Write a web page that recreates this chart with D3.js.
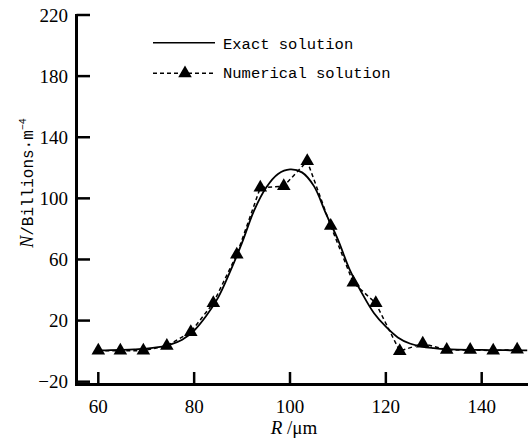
<!DOCTYPE html>
<html>
<head>
<meta charset="utf-8">
<script src="https://cdn.jsdelivr.net/npm/d3@7"></script>
<style>
  html, body { margin: 0; padding: 0; background: #fff; }
  svg { display: block; }
</style>
</head>
<body>
<svg id="chart" width="528" height="440"></svg>
<script>
// ---- data ----
const xTicks = [60, 80, 100, 120, 140];
const yTicks = [-20, 20, 60, 100, 140, 180, 220];

// Numerical solution (triangles)
const numR = [60, 64.6, 69.4, 74.3, 79.3, 84.0, 88.9, 93.8, 98.7, 103.6, 108.5, 113.2, 117.9, 122.9, 127.7, 132.7, 137.6, 142.4, 147.4];
const numN = [0.3, 0.3, 0.3, 3.5, 12.5, 31.5, 63.2, 107, 108, 124.4, 82, 44.8, 31.4, 0, 5, 0.8, 0.8, 0.4, 1];

// Exact solution
const exactR = [60, 62.5, 65, 67.5, 70, 72.5, 75, 77.5, 80, 82.5, 85, 87.5, 90, 92.5, 95, 97.5, 100, 102.5, 105, 107.5, 110, 112.5, 115, 117.5, 120, 122.5, 125, 127.5, 130, 132.5, 135, 140, 145, 149.5];
const exactN = [0.5, 0.6, 0.8, 1.1, 1.6, 2.6, 4.3, 7.5, 13.5, 23, 35, 52, 71, 92, 107, 116, 119, 117, 108, 90, 73, 53, 38, 25, 16, 9, 5, 3, 2, 1.3, 1, 0.8, 0.6, 0.5];

const legendLabels = ["Exact solution", "Numerical solution"];

// ---- layout ----
const svg = d3.select("#chart");
const axisX = 76.5, axisY = 384.5;
const x = d3.scaleLinear().domain([60, 140]).range([98.3, 481.7]);
const y = d3.scaleLinear().domain([-20, 220]).range([381.7, 15]);

const serif = "'Liberation Serif', 'Times New Roman', serif";
const mono = "'Liberation Mono', 'Courier New', monospace";

// curves
const exactData = exactR.map((r, i) => [r, exactN[i]]);
const numData = numR.map((r, i) => [r, numN[i]]);

svg.append("path")
  .datum(exactData)
  .attr("fill", "none")
  .attr("stroke", "#000")
  .attr("stroke-width", 1.8)
  .attr("d", d3.line().x(d => x(d[0])).y(d => y(d[1])).curve(d3.curveCatmullRom.alpha(0.5)));

svg.append("path")
  .datum(numData)
  .attr("fill", "none")
  .attr("stroke", "#000")
  .attr("stroke-width", 1.5)
  .attr("stroke-dasharray", "4,3")
  .attr("d", d3.line().x(d => x(d[0])).y(d => y(d[1])));

const tri = d3.symbol().type(d3.symbolTriangle).size(80);
svg.append("g").selectAll("path")
  .data(numData)
  .join("path")
  .attr("transform", d => `translate(${x(d[0])},${y(d[1])})`)
  .attr("d", tri)
  .attr("fill", "#000");

// axes lines
svg.append("line").attr("x1", axisX).attr("x2", axisX).attr("y1", 14).attr("y2", axisY + 1.5)
  .attr("stroke", "#000").attr("stroke-width", 3);
svg.append("line").attr("x1", axisX - 1.5).attr("x2", 528).attr("y1", axisY).attr("y2", axisY)
  .attr("stroke", "#000").attr("stroke-width", 3);

// y ticks
const yg = svg.append("g");
yg.selectAll("line").data(yTicks).join("line")
  .attr("x1", axisX).attr("x2", 90)
  .attr("y1", d => y(d)).attr("y2", d => y(d))
  .attr("stroke", "#000").attr("stroke-width", 2.5);
yg.selectAll("text").data(yTicks).join("text")
  .attr("x", 68).attr("y", d => y(d))
  .attr("text-anchor", "end")
  .attr("dominant-baseline", "central")
  .attr("font-family", serif).attr("font-size", 19)
  .text(d => d3.format("")(d));

// x ticks
const xg = svg.append("g");
xg.selectAll("line").data(xTicks).join("line")
  .attr("x1", d => x(d)).attr("x2", d => x(d))
  .attr("y1", axisY).attr("y2", 372)
  .attr("stroke", "#000").attr("stroke-width", 2.5);
xg.selectAll("text").data(xTicks).join("text")
  .attr("x", d => x(d)).attr("y", 413)
  .attr("text-anchor", "middle")
  .attr("font-family", serif).attr("font-size", 19)
  .text(d => d);

// axis titles
const xt = svg.append("text")
  .attr("x", 294).attr("y", 434)
  .attr("text-anchor", "middle")
  .attr("font-family", serif).attr("font-size", 19);
xt.append("tspan").attr("font-style", "italic").text("R");
xt.append("tspan").text(" /μm");

const yt = svg.append("text")
  .attr("transform", "translate(33,183) rotate(-90)")
  .attr("text-anchor", "middle")
  .attr("font-family", mono).attr("font-size", 16);
yt.append("tspan").attr("font-family", serif).attr("font-style", "italic").attr("font-size", 18).text("N");
yt.append("tspan").text("/Billions·m");
yt.append("tspan").attr("font-size", 10).attr("dy", -7).text("−4");

// legend
const lg = svg.append("g");
lg.append("line").attr("x1", 153).attr("x2", 215).attr("y1", 42.7).attr("y2", 42.7)
  .attr("stroke", "#000").attr("stroke-width", 1.5);
lg.append("line").attr("x1", 153).attr("x2", 215).attr("y1", 73.3).attr("y2", 73.3)
  .attr("stroke", "#000").attr("stroke-width", 1.5).attr("stroke-dasharray", "4,3");
lg.append("path").attr("transform", "translate(185,73.3)").attr("d", tri).attr("fill", "#000");
lg.selectAll("text").data(legendLabels).join("text")
  .attr("x", 223).attr("y", (d, i) => i === 0 ? 44.5 : 73.5)
  .attr("dominant-baseline", "central")
  .attr("font-family", mono).attr("font-size", 15.5)
  .text(d => d);
</script>
</body>
</html>
